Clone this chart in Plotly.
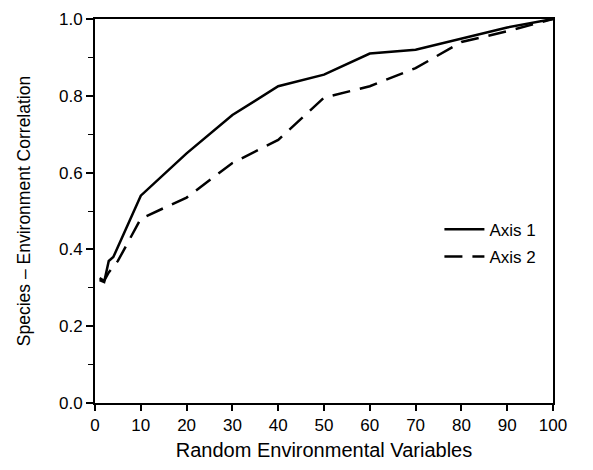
import plotly.graph_objects as go

x1 = [1, 2, 3, 4, 10, 20, 30, 40, 50, 60, 70, 80, 90, 100]
axis1 = [0.32, 0.315, 0.37, 0.38, 0.54, 0.65, 0.75, 0.825, 0.855, 0.91, 0.92, 0.948, 0.978, 1.0]
x2 = [1, 2, 3, 5, 10, 20, 30, 40, 50, 60, 70, 80, 90, 100]
axis2 = [0.325, 0.318, 0.34, 0.37, 0.48, 0.535, 0.625, 0.685, 0.795, 0.825, 0.872, 0.94, 0.968, 1.0]

fig = go.Figure()
fig.add_trace(go.Scatter(x=x1, y=axis1, mode="lines", name="Axis 1", legendgroup="a1",
                         line=dict(color="black", width=2.5)))
fig.add_trace(go.Scatter(x=x2, y=axis2, mode="lines", name="Axis 2", legendgroup="a2",
                         line=dict(color="black", width=2.5, dash="18px,10px")))

font = dict(family="Liberation Sans, Arial, sans-serif", color="black")
fig.update_layout(
    width=593, height=470,
    margin=dict(l=87, r=48, t=11, b=75),
    plot_bgcolor="white", paper_bgcolor="white",
    font=dict(size=17, **font),
    showlegend=True,
    legend=dict(x=0.752, y=0.416, xanchor="left", yanchor="middle",
                bgcolor="rgba(0,0,0,0)", font=dict(size=17, **font),
                traceorder="grouped", tracegroupgap=2, itemwidth=40),
    xaxis=dict(range=[0, 100], tickvals=list(range(0, 101, 10)), automargin=False,
               ticks="outside", ticklen=6, tickwidth=1.5, tickcolor="black",
               showline=True, linecolor="black", linewidth=2, mirror=True,
               showgrid=False, zeroline=False,
               title=dict(text="Random Environmental Variables", font=dict(size=20, **font), standoff=9),
               tickfont=dict(size=17, **font)),
    yaxis=dict(range=[0, 1.0], tickvals=[0, 0.2, 0.4, 0.6, 0.8, 1.0], tickformat=".1f", automargin=False,
               ticks="outside", ticklen=7, tickwidth=1.5, tickcolor="black",
               minor=dict(tickvals=[0.1, 0.3, 0.5, 0.7, 0.9], ticks="outside", ticklen=5,
                          tickwidth=1, tickcolor="black"),
               showline=True, linecolor="black", linewidth=2, mirror=True,
               showgrid=False, zeroline=False,
               title=dict(text="Species \u2013 Environment Correlation", font=dict(size=17.5, **font), standoff=24),
               tickfont=dict(size=17, **font)),
)
fig.write_html("out.html")
